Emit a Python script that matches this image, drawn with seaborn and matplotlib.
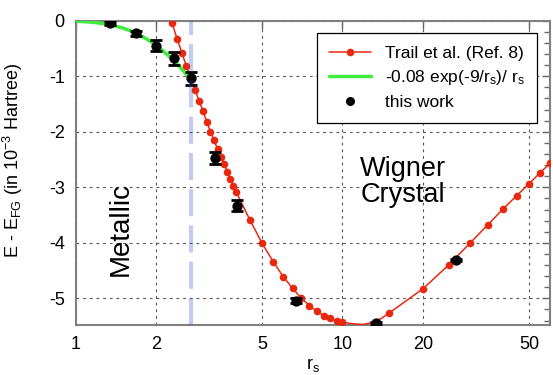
import numpy as np
import pandas as pd
import matplotlib
matplotlib.use("Agg")
import matplotlib.pyplot as plt
import seaborn as sns
from matplotlib.lines import Line2D
from matplotlib.ticker import FixedLocator, FixedFormatter, MultipleLocator, NullLocator

# ---------------- data ----------------
trail_rs = [2.3, 2.4, 2.5, 2.6, 2.7, 2.8, 2.9, 3.0, 3.1, 3.2, 3.3, 3.4, 3.5, 3.6, 3.7,
            3.8, 3.9, 4.0, 4.5, 5.0, 5.5, 6.0, 6.5, 7.0, 7.5, 8.0, 8.5, 9.0, 9.5, 10,
            15, 20, 25, 30, 35, 40, 45, 50, 55, 60]
trail_E = [-0.05, -0.33, -0.58, -0.82, -1.04, -1.25, -1.44, -1.63, -1.82, -2.00, -2.15,
           -2.31, -2.45, -2.58, -2.72, -2.85, -2.97, -3.09, -3.59, -4.01, -4.34, -4.61,
           -4.82, -4.99, -5.13, -5.23, -5.31, -5.36, -5.41, -5.43,
           -5.26, -4.83, -4.40, -4.01, -3.68, -3.39, -3.15, -2.94, -2.74, -2.57]
# extra points (no markers)
curve_rs = [11, 12, 13, 14]
curve_E = [-5.46, -5.47, -5.43, -5.36]

green_rs = [1.0, 1.1, 1.2, 1.3, 1.4, 1.5, 1.6, 1.7, 1.8, 1.9, 2.0, 2.1, 2.2, 2.3, 2.4,
            2.5, 2.6, 2.7]
green_E = [-0.010, -0.020, -0.037, -0.061, -0.092, -0.132, -0.180, -0.236, -0.300,
           -0.369, -0.444, -0.524, -0.608, -0.695, -0.784, -0.874, -0.966, -1.057]

work_rs = [1.34, 1.68, 2.0, 2.34, 2.70, 3.33, 4.01, 6.69, 13.3, 26.7]
work_E = [-0.05, -0.23, -0.45, -0.68, -1.04, -2.47, -3.33, -5.04, -5.45, -4.31]
work_err = [0.03, 0.04, 0.10, 0.11, 0.12, 0.11, 0.10, 0.05, 0.03, 0.02]

transition_rs = 2.7

x_ticks = [1, 2, 5, 10, 20, 50]
x_ticklabels = ["1", "2", "5", "10", "20", "50"]
y_ticks = [0, -1, -2, -3, -4, -5]
y_ticklabels = ["0", "-1", "-2", "-3", "-4", "-5"]

legend_labels = ["Trail et al. (Ref. 8)", r"-0.08 exp(-9/r$_{\rm s}$)/ r$_{\rm s}$", "this work"]

# ---------------- style ----------------
sns.set_theme(style="white")
plt.rcParams["font.family"] = ["Liberation Sans", "DejaVu Sans"]
plt.rcParams["mathtext.fontset"] = "custom"
plt.rcParams["mathtext.rm"] = "Liberation Sans"
plt.rcParams["mathtext.it"] = "Liberation Sans:italic"
plt.rcParams["mathtext.bf"] = "Liberation Sans:bold"
plt.rcParams["axes.unicode_minus"] = False
for k in ["text.color", "axes.labelcolor", "xtick.labelcolor", "ytick.labelcolor"]:
    plt.rcParams[k] = "black"

RED = "#e8280f"
GREEN = "#3ded3d"
BLUE = (58/255, 85/255, 218/255)

fig = plt.figure(figsize=(5.53, 3.75), dpi=100)
ax = fig.add_axes([0.137, 0.1333, 0.8576, 0.8115])
ax.set_xscale("log")

trail_df = pd.DataFrame({"rs": trail_rs, "E": trail_E})
line_df = pd.DataFrame({"rs": trail_rs + curve_rs, "E": trail_E + curve_E}).sort_values("rs")
green_df = pd.DataFrame({"rs": green_rs, "E": green_E})
work_df = pd.DataFrame({"rs": work_rs, "E": work_E, "err": work_err})

# red fitted line + markers
sns.lineplot(data=line_df, x="rs", y="E", ax=ax, color=RED, lw=1.1, sort=True,
             estimator=None, zorder=3)
sns.scatterplot(data=trail_df, x="rs", y="E", ax=ax, color=RED, s=30, linewidth=0,
                zorder=4)
# green curve
sns.lineplot(data=green_df, x="rs", y="E", ax=ax, color=GREEN, lw=2.5, sort=True,
             estimator=None, zorder=3)
# this work with error bars
ax.errorbar(work_df["rs"], work_df["E"], yerr=work_df["err"], fmt="none",
            ecolor="black", elinewidth=1.6, capsize=4, capthick=2, zorder=5)
sns.scatterplot(data=work_df, x="rs", y="E", ax=ax, color="black", s=55, linewidth=0,
                zorder=6)

# transition line
ax.axvline(transition_rs, color=BLUE, alpha=0.3, lw=3, dashes=(6.5, 2.2), zorder=7)

ax.set_xlim(1, 60)
ax.set_ylim(-5.48, 0)

ax.xaxis.set_major_locator(FixedLocator(x_ticks))
ax.xaxis.set_major_formatter(FixedFormatter(x_ticklabels))
ax.xaxis.set_minor_locator(NullLocator())
ax.yaxis.set_major_locator(FixedLocator(y_ticks))
ax.yaxis.set_major_formatter(FixedFormatter(y_ticklabels))
ax.yaxis.set_minor_locator(MultipleLocator(0.2))

ax.grid(True, which="major", color="#555555", lw=0.8, dashes=(2.5, 3.5))
ax.set_axisbelow(True)

ax.tick_params(which="both", direction="in", top=True, right=True, color="#666666",
               labelsize=13, pad=8, labelcolor="black")
ax.tick_params(which="major", length=6, width=1)
ax.tick_params(which="minor", length=4, width=1)
for s in ax.spines.values():
    s.set_color("#808080")
    s.set_linewidth(1.5)

ax.set_xlabel(r"r$_{\rm s}$", fontsize=13, labelpad=2, color="black")
ax.set_ylabel(r"E - E$_{\rm FG}$ (in 10$^{-3}$ Hartree)", fontsize=13, labelpad=6,
              color="black")
ax.yaxis.set_label_coords(-0.108, 0.54)

ax.text(0.0955, 0.315, "Metallic", transform=ax.transAxes, rotation=90,
        ha="center", va="center", fontsize=20, color="black")
ax.text(0.69, 0.47, "Wigner\nCrystal", transform=ax.transAxes, ha="center",
        va="center", fontsize=19.5, linespacing=1.0, color="black")

handles = [
    Line2D([], [], color=RED, lw=1.1, marker="o", markersize=5.5, markeredgewidth=0),
    Line2D([], [], color=GREEN, lw=2.5),
    Line2D([], [], color="black", ls="none", marker="o", markersize=6.5, markeredgewidth=0),
]
leg = ax.legend(handles, legend_labels, loc="upper right", bbox_to_anchor=(0.972, 0.9586),
                fontsize=12.5, frameon=True, fancybox=False, framealpha=1,
                edgecolor="black", handlelength=2.4, handletextpad=0.8,
                labelspacing=0.45, borderpad=0.7, borderaxespad=0)
leg.get_frame().set_linewidth(0.9)
for t in leg.get_texts():
    t.set_color("black")

fig.savefig("out.png", dpi=100)
